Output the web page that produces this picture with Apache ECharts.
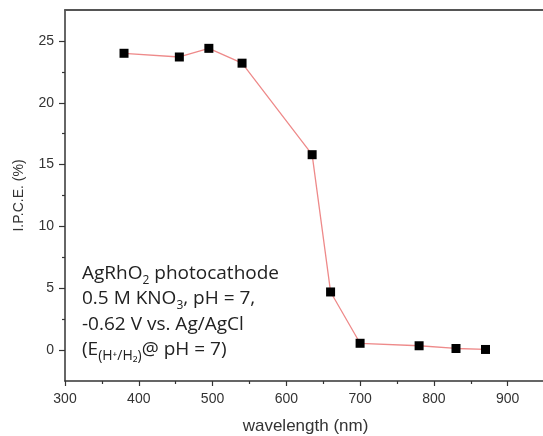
<!DOCTYPE html>
<html>
<head>
<meta charset="utf-8">
<script src="https://cdn.jsdelivr.net/npm/echarts@6/dist/echarts.min.js"></script>
<style>html,body{margin:0;padding:0;background:#fff}#c{width:543px;height:436px}</style>
</head>
<body>
<div id="c"></div>
<script>
// ---- data ----
const wavelengths = [380, 455, 495, 540, 635, 660, 700, 780, 830, 870];
const ipce = [24.0, 23.7, 24.4, 23.2, 15.8, 4.7, 0.55, 0.35, 0.13, 0.05];
const xTicks = [300, 400, 500, 600, 700, 800, 900];
const yTicks = [0, 5, 10, 15, 20, 25];
const xTitle = 'wavelength (nm)';
const yTitle = 'I.P.C.E. (%)';

// ---- layout ----
const X = {min: 300, max: 952};
const Y = {min: -2.5, max: 27.5};
const G = {left: 65, top: 10, width: 481, height: 371};
const xMaj = {min: xTicks[0], max: xTicks[xTicks.length - 1]};
const yMaj = {min: yTicks[0], max: yTicks[yTicks.length - 1]};
const px = G.width / (X.max - X.min);
const py = G.height / (Y.max - Y.min);
const G2 = {
  left: G.left + (xMaj.min - X.min) * px,
  width: (xMaj.max - xMaj.min) * px,
  top: G.top + (Y.max - yMaj.max) * py,
  height: (yMaj.max - yMaj.min) * py
};
const xOffset = (G.top + G.height) - (G2.top + G2.height);
const yOffset = G2.left - G.left;

const axisCol = '#333';
const fam = 'Liberation Sans, Arial, sans-serif';
const labelFont = {color: '#333', fontSize: 14, fontFamily: fam};

const chart = echarts.init(document.getElementById('c'), null, {renderer: 'canvas'});
chart.setOption({
  backgroundColor: '#fff',
  animation: false,
  grid: [
    {left: G.left, top: G.top, width: G.width, height: G.height, containLabel: false, outerBoundsMode: 'none'},
    {left: G2.left, top: G2.top, width: G2.width, height: G2.height, containLabel: false, outerBoundsMode: 'none'}
  ],
  xAxis: [
    {gridIndex: 0, type: 'value', min: X.min, max: X.max, position: 'bottom',
     axisLine: {show: true, onZero: false, lineStyle: {color: axisCol, width: 1.5}},
     axisTick: {show: false}, axisLabel: {show: false}, splitLine: {show: false},
     name: xTitle, nameLocation: 'middle', nameGap: 37,
     nameTextStyle: {color: '#333', fontSize: 17, fontFamily: fam}},
    {gridIndex: 0, type: 'value', min: X.min, max: X.max, position: 'top',
     axisLine: {show: true, onZero: false, lineStyle: {color: '#555', width: 2}},
     axisTick: {show: false}, axisLabel: {show: false}, splitLine: {show: false}},
    {gridIndex: 1, type: 'value', min: xMaj.min, max: xMaj.max, interval: 100, position: 'bottom',
     offset: xOffset,
     axisLine: {show: false, onZero: false},
     axisTick: {show: true, inside: false, length: 5, lineStyle: {color: axisCol, width: 1.2}},
     minorTick: {show: true, splitNumber: 2, length: 3, lineStyle: {color: axisCol, width: 1.2}},
     axisLabel: Object.assign({margin: 11}, labelFont),
     splitLine: {show: false}, minorSplitLine: {show: false}}
  ],
  yAxis: [
    {gridIndex: 0, type: 'value', min: Y.min, max: Y.max,
     axisLine: {show: true, onZero: false, lineStyle: {color: axisCol, width: 1.5}},
     axisTick: {show: false}, axisLabel: {show: false}, splitLine: {show: false},
     name: yTitle, nameLocation: 'middle', nameGap: 39, nameRotate: 90,
     nameTextStyle: {color: '#333', fontSize: 14, fontFamily: fam}},
    {gridIndex: 1, type: 'value', min: yMaj.min, max: yMaj.max, interval: 5,
     offset: yOffset,
     axisLine: {show: false, onZero: false},
     axisTick: {show: true, inside: false, length: 6, lineStyle: {color: axisCol, width: 1.2}},
     minorTick: {show: true, splitNumber: 2, length: 3, lineStyle: {color: axisCol, width: 1.2}},
     axisLabel: Object.assign({margin: 11}, labelFont),
     splitLine: {show: false}, minorSplitLine: {show: false}}
  ],
  series: [{
    type: 'line', xAxisIndex: 0, yAxisIndex: 0,
    data: wavelengths.map((w, i) => [w, ipce[i]]),
    symbol: 'rect', symbolSize: 9, showSymbol: true,
    itemStyle: {color: '#000'},
    lineStyle: {color: '#ee8a8a', width: 1.3},
    z: 5
  }],
  graphic: [{
    type: 'text', left: 82, top: 264, z: 10,
    style: {
      text: '{n|AgRhO}{s|2}{n| photocathode}\n' +
            '{n|0.5 M KNO}{s|3}{n|, pH = 7,}\n' +
            '{n|-0.62 V vs. Ag/AgCl}\n' +
            '{n|(E}{t|(H⁺/H₂)}{n|@ pH = 7)}',
      fill: '#222',
      font: '19px "Open Sans", sans-serif',
      rich: {
        n: {fontSize: 19, fontFamily: 'Open Sans, sans-serif', fill: '#222', lineHeight: 25.5, verticalAlign: 'middle'},
        s: {fontSize: 12, fontFamily: 'Open Sans, sans-serif', fill: '#222', lineHeight: 13, verticalAlign: 'bottom'},
        t: {fontSize: 14, fontFamily: 'Open Sans, sans-serif', fill: '#222', lineHeight: 15, verticalAlign: 'bottom'}
      }
    }
  }]
});
</script>
</body>
</html>
